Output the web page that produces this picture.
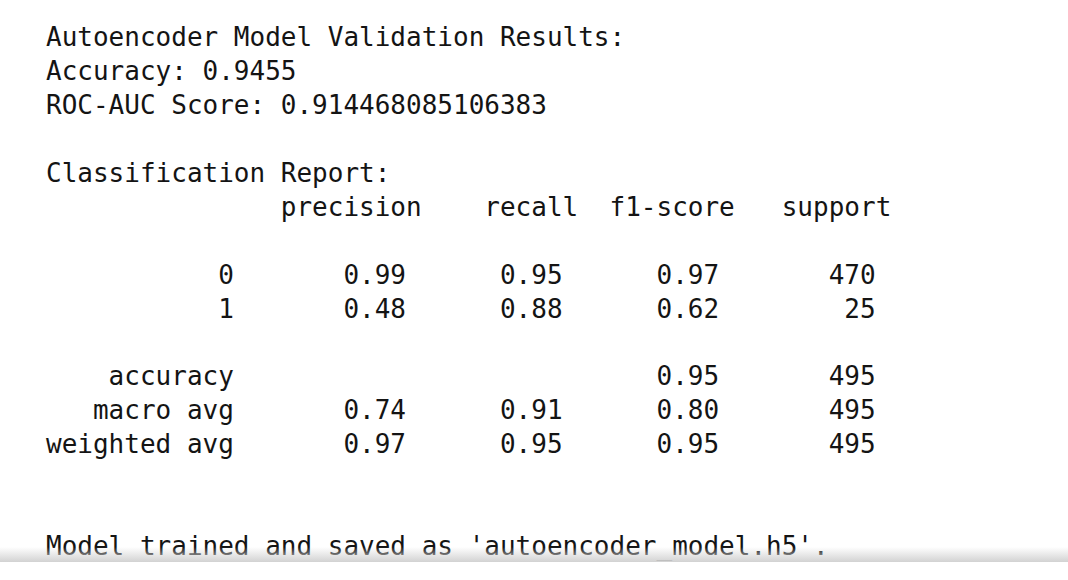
<!DOCTYPE html>
<html>
<head>
<meta charset="utf-8">
<script src="https://cdn.jsdelivr.net/npm/chart.js@4/dist/chart.umd.min.js"></script>
<style>
  html, body { margin: 0; padding: 0; background: #fff; }
  body { width: 1068px; height: 580px; position: relative; overflow: hidden; }
  #out {
    position: absolute; left: 46px; top: 21px; margin: 0;
    font-family: "DejaVu Sans Mono", monospace; font-size: 26px; line-height: 33.93px;
    color: #141414; white-space: pre;
  }
  #shade {
    position: absolute; left: 0; top: 547px; width: 1068px; height: 15px;
    background: linear-gradient(to bottom, rgba(255,255,255,0), #d2d2d2);
  }
</style>
</head>
<body>
<pre id="out"></pre>
<div id="shade"></div>
<script>
// Values from the printed validation run
const modelName = 'Autoencoder';
const accuracy = '0.9455';
const rocAuc = '0.914468085106383';
const headers = ['precision', 'recall', 'f1-score', 'support'];
const classLabels = ['0', '1'];
const precision = [0.99, 0.48];
const recall = [0.95, 0.88];
const f1Score = [0.97, 0.62];
const support = [470, 25];
const avgLabels = ['macro avg', 'weighted avg'];
const avgPrecision = [0.74, 0.97];
const avgRecall = [0.91, 0.95];
const avgF1 = [0.80, 0.95];
const totalSupport = 495;
const accuracyF1 = 0.95;
const savedFile = 'autoencoder_model.h5';

const width = 12;
const num = v => ' ' + v.toFixed(2).padStart(9);
const cnt = v => ' ' + String(v).padStart(9);

function reportRow(label, p, r, f, s) {
    return label.padStart(width) + ' ' + num(p) + num(r) + num(f) + cnt(s);
}

let lines = [];
lines.push(modelName + ' Model Validation Results:');
lines.push('Accuracy: ' + accuracy);
lines.push('ROC-AUC Score: ' + rocAuc);
lines.push('');
lines.push('Classification Report:');
// header sits one column further right in the original output
lines.push(' '.repeat(width + 3) + headers[0] + headers.slice(1).map(h => ' ' + h.padStart(9)).join(''));
lines.push('');
classLabels.forEach((c, i) => lines.push(reportRow(c, precision[i], recall[i], f1Score[i], support[i])));
lines.push('');
lines.push('accuracy'.padStart(width) + ' ' + ' '.repeat(20) + num(accuracyF1) + cnt(totalSupport));
avgLabels.forEach((a, i) => lines.push(reportRow(a, avgPrecision[i], avgRecall[i], avgF1[i], totalSupport)));
lines.push('');
lines.push('');
lines.push("Model trained and saved as '" + savedFile + "'.");

document.getElementById('out').textContent = lines.join('\n');
</script>
</body>
</html>
